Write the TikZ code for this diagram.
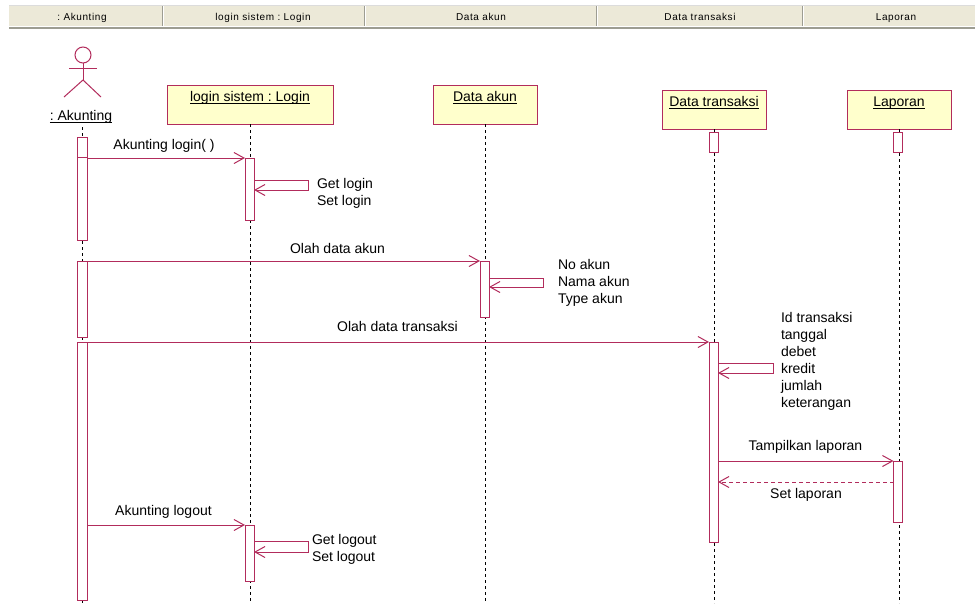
\documentclass[tikz,border=0pt]{standalone}
\usepackage{fontspec}
\setmainfont{Liberation Sans}
\newfontfamily\hdrfont[LetterSpace=6]{Liberation Sans}
\usetikzlibrary{arrows.meta}
\definecolor{uml}{HTML}{B22C5C}
\definecolor{boxfill}{HTML}{FFFFCC}
\definecolor{hdrbg}{HTML}{ECE9D8}
\definecolor{hdrdark}{HTML}{9D9D92}
\definecolor{hdrlight}{HTML}{DCDCDC}
\frenchspacing
\begin{document}
\begin{tikzpicture}[x=1pt,y=-1pt,
 every node/.style={inner sep=0pt, outer sep=0pt},
 objbox/.style={draw=uml, fill=boxfill, line width=1pt, minimum width=104pt, minimum height=39pt},
 actbar/.style={draw=uml, fill=white, line width=1pt, minimum width=9pt},
 life/.style={draw=black, line width=0.9pt, dash pattern=on 3pt off 3pt},
 msg/.style={draw=uml, line width=1pt, -{Straight Barb[length=10pt,width=11pt]}},
 retmsg/.style={msg, dash pattern=on 4pt off 3pt},
 lbl/.style={font=\fontsize{14}{17}\selectfont, anchor=base},
 note/.style={font=\fontsize{14}{17}\selectfont, anchor=north west, align=left},
 hdr/.style={font=\hdrfont\fontsize{10}{12}\selectfont, anchor=base},
 uline/.style={draw=black, line width=0.9pt},
 actorline/.style={draw=uml, line width=1pt},
]
\useasboundingbox (0,0) rectangle (975,603);
\fill[white] (0,0) rectangle (975,603);
% header bar
\fill[hdrbg] (9,5) rectangle (975,26);
\draw[hdrlight] (9,5.5) -- (975,5.5);
\draw[hdrdark, line width=2pt] (9,27.5) -- (975,27.5);
\foreach \sx in {163,365,597,803} {
  \draw[hdrdark] (\sx-0.5,6) -- (\sx-0.5,26);
  \draw[white] (\sx+0.5,6) -- (\sx+0.5,26);
}
\node[hdr] (h1) at (82,20) {: Akunting};
\node[hdr] (h2) at (263,20) {login sistem : Login};
\node[hdr] (h3) at (481,20) {Data akun};
\node[hdr] (h4) at (700,20) {Data transaksi};
\node[hdr] (h5) at (896,20) {Laporan};

\coordinate (bot) at (0,603);

% actor
\draw[actorline] (83,55) circle (8);
\draw[actorline] (69,68) -- (97,68);
\draw[actorline] (83,63) -- (83,80);
\draw[actorline] (64,97) -- (83,80) -- (101,97);
\node[lbl] (akl) at (81,120.7) {: Akunting};
\draw[uline] ([yshift=-2pt]akl.base west) -- ([yshift=-2pt]akl.base east);

% objects
\node[objbox, minimum width=166pt] (lg) at (250,104.5) {};
\node[objbox] (da) at (485,104.5) {};
\node[objbox] (dt) at (714,109.5) {};
\node[objbox] (lp) at (899,109.5) {};
\node[lbl] (lgt) at (250,101.7) {login sistem : Login};
\node[lbl] (dat) at (485,101.7) {Data akun};
\node[lbl] (dtt) at (714,106.7) {Data transaksi};
\node[lbl] (lpt) at (899,106.7) {Laporan};
\foreach \n in {lgt,dat,dtt,lpt} {
  \draw[uline] ([yshift=-2pt]\n.base west) -- ([yshift=-2pt]\n.base east);
}

% lifelines
\coordinate (aktop) at (82,127);
\draw[life] (aktop) -- (aktop |- bot);
\draw[life] (lg.south) -- (lg.south |- bot);
\draw[life] (da.south) -- (da.south |- bot);
\draw[life] (dt.south) -- (dt.south |- bot);
\draw[life] (lp.south) -- (lp.south |- bot);

% activation bars
\node[actbar, minimum width=10pt, minimum height=20pt] (ak1) at (82,147) {};
\node[actbar, minimum width=10pt, minimum height=83pt] (ak2) at (82,198.5) {};
\node[actbar, minimum width=10pt, minimum height=76pt] (ak3) at (82,299) {};
\node[actbar, minimum width=10pt, minimum height=258pt] (ak4) at (82,471) {};
\node[actbar, minimum height=62pt] (lg1) at (249.5,189) {};
\node[actbar, minimum height=56pt] (lg2) at (249.5,553) {};
\node[actbar, minimum height=56pt] (da1) at (484.5,289) {};
\node[actbar, minimum height=20pt] (dt0) at (713.5,142) {};
\node[actbar, minimum height=200pt] (dt1) at (713.5,442) {};
\node[actbar, minimum height=20pt] (lp0) at (898,142) {};
\node[actbar, minimum height=61pt] (lp1) at (898,491.5) {};

% messages
\draw[msg] (ak2.east |- lg1.north) -- (lg1.north west);
\node[lbl] (m1) at (164,149) {Akunting login( )};

\coordinate (s1a) at (308,180);
\coordinate (s1b) at (308,190);
\draw[msg] (lg1.east |- s1a) -- (s1a) -- (s1b) -- (lg1.east |- s1b);
\node[note] (n1) at (317,178) {Get login\\Set login};

\draw[msg] (ak3.north east) -- (da1.north west);
\node[lbl] (m2) at (337.5,253.3) {Olah data akun};

\coordinate (s2a) at (543,278);
\coordinate (s2b) at (543,287);
\draw[msg] (da1.east |- s2a) -- (s2a) -- (s2b) -- (da1.east |- s2b);
\node[note] (n2) at (558,259.5) {No akun\\Nama akun\\Type akun};

\draw[msg] (ak4.north east) -- (dt1.north west);
\node[lbl] (m3) at (397.5,331.7) {Olah data transaksi};

\coordinate (s3a) at (773,363);
\coordinate (s3b) at (773,373);
\draw[msg] (dt1.east |- s3a) -- (s3a) -- (s3b) -- (dt1.east |- s3b);
\node[note] (n3) at (781,312.7) {Id transaksi\\tanggal\\debet\\kredit\\jumlah\\keterangan};

\draw[msg] (dt1.east |- lp1.north) -- (lp1.north west);
\node[lbl] (m4) at (805.5,450.7) {Tampilkan laporan};

\coordinate (r1) at (0,482);
\draw[retmsg] (lp1.west |- r1) -- (dt1.east |- r1);
\node[lbl] (m5) at (806,498.3) {Set laporan};

\draw[msg] (ak4.east |- lg2.north) -- (lg2.north west);
\node[lbl] (m6) at (163.5,515.7) {Akunting logout};

\coordinate (s4a) at (308,541);
\coordinate (s4b) at (308,552);
\draw[msg] (lg2.east |- s4a) -- (s4a) -- (s4b) -- (lg2.east |- s4b);
\node[note] (n4) at (312,534) {Get logout\\Set logout};
\end{tikzpicture}
\end{document}
